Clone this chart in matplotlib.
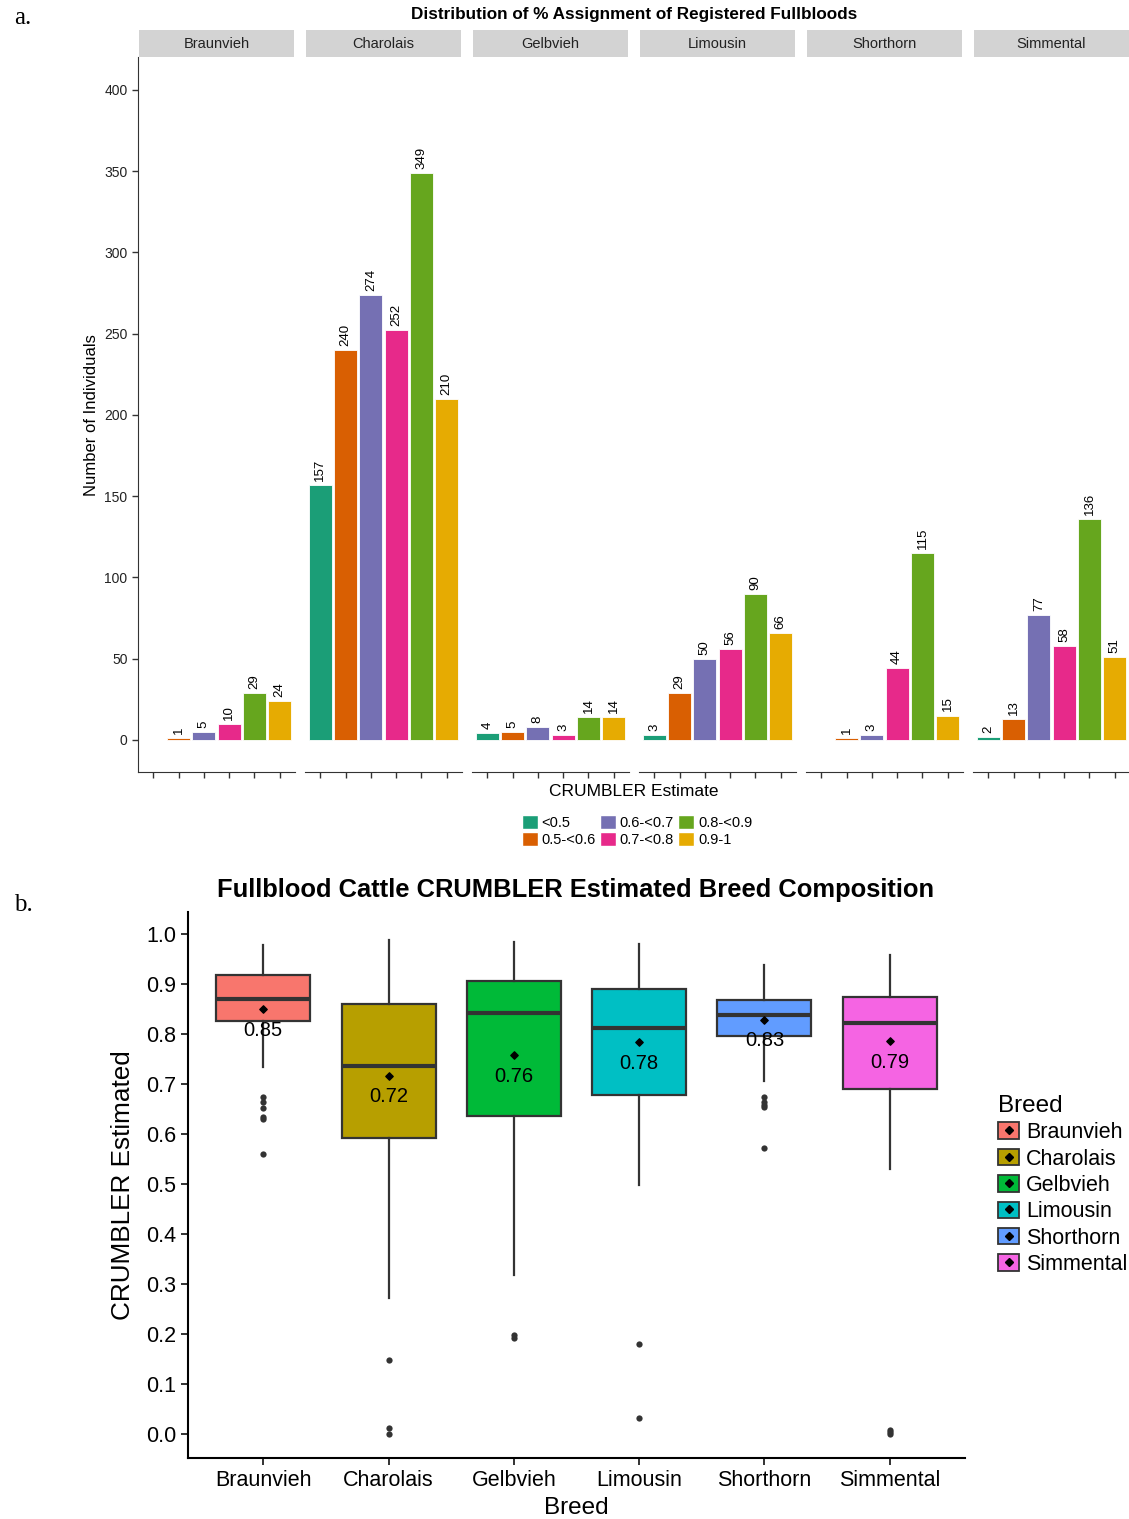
import numpy as np
import matplotlib
matplotlib.use("Agg")
import matplotlib.pyplot as plt
from matplotlib.patches import Patch, Rectangle
from matplotlib.lines import Line2D

plt.rcParams['font.family'] = ['Liberation Sans', 'DejaVu Sans']

# ---- data, panel a ----
breeds = ['Braunvieh', 'Charolais', 'Gelbvieh', 'Limousin', 'Shorthorn', 'Simmental']
bins = ['<0.5', '0.5-<0.6', '0.6-<0.7', '0.7-<0.8', '0.8-<0.9', '0.9-1']
bin_colors = ['#1B9E77', '#D95F02', '#7570B3', '#E7298A', '#66A61E', '#E6AB02']

braunvieh_counts = [0, 1, 5, 10, 29, 24]
charolais_counts = [157, 240, 274, 252, 349, 210]
gelbvieh_counts = [4, 5, 8, 3, 14, 14]
limousin_counts = [3, 29, 50, 56, 90, 66]
shorthorn_counts = [0, 1, 3, 44, 115, 15]
simmental_counts = [2, 13, 77, 58, 136, 51]
all_counts = [braunvieh_counts, charolais_counts, gelbvieh_counts,
              limousin_counts, shorthorn_counts, simmental_counts]

# ---- data, panel b (box statistics) ----
breed_colors = ['#F8766D', '#B79F00', '#00BA38', '#00BFC4', '#619CFF', '#F564E3']
q1 = [0.826, 0.593, 0.636, 0.678, 0.797, 0.691]
medians = [0.870, 0.736, 0.843, 0.813, 0.838, 0.823]
q3 = [0.918, 0.860, 0.907, 0.891, 0.869, 0.875]
whisk_lo = [0.734, 0.272, 0.318, 0.499, 0.706, 0.531]
whisk_hi = [0.978, 0.989, 0.985, 0.981, 0.938, 0.959]
means = [0.850, 0.717, 0.759, 0.784, 0.829, 0.787]
outliers = [
    [0.675, 0.665, 0.652, 0.635, 0.630, 0.560],
    [0.149, 0.013, 0.0],
    [0.198, 0.192],
    [0.181, 0.033],
    [0.675, 0.665, 0.658, 0.655, 0.573],
    [0.008, 0.004, 0.0],
]

W, H = 1129, 1519
fig = plt.figure(figsize=(W / 100, H / 100), dpi=100)


def fx(px):
    return px / W


def fy(py):
    return 1 - py / H


# ================= panel a =================
x = np.arange(1, 7)
for i, breed in enumerate(breeds):
    left = 138 + i * 167
    ax = fig.add_axes([fx(left), fy(772), 157 / W, (772 - 57) / H])
    counts = all_counts[i]
    ax.bar(x, counts, width=0.9, color=bin_colors, edgecolor='white', linewidth=0.6)
    for xi, v in zip(x, counts):
        if v > 0:
            ax.annotate(str(v), (xi, v), xytext=(0, 3), textcoords='offset points',
                        rotation=90, ha='center', va='bottom', fontsize=9.5, color='black')
    ax.set_xlim(0.4, 6.6)
    ax.set_ylim(-19.7, 420.3)
    ax.set_xticks(x)
    ax.set_xticklabels([])
    ax.tick_params(axis='x', length=4, width=1, color='#333333')
    for s in ['top', 'right']:
        ax.spines[s].set_visible(False)
    ax.spines['bottom'].set_color('#333333')
    if i == 0:
        ax.set_yticks([0, 50, 100, 150, 200, 250, 300, 350, 400])
        ax.tick_params(axis='y', length=4, width=1, color='#333333', labelsize=10, labelcolor='#222222')
        ax.spines['left'].set_color('#333333')
    else:
        ax.spines['left'].set_visible(False)
        ax.set_yticks([])
    ax.add_patch(Rectangle((0.005, 1.0), 0.99, 27 / 715, transform=ax.transAxes, clip_on=False,
                           facecolor='#D3D3D3', edgecolor='none'))
    ax.text(0.5, 1.0 + 13.5 / 715, breed, transform=ax.transAxes, ha='center', va='center',
            fontsize=10.5, color='#222222')

fig.text(fx(634), fy(15), 'Distribution of % Assignment of Registered Fullbloods',
         ha='center', va='center', fontsize=12.3, fontweight='bold')
fig.text(fx(92), fy(415), 'Number of Individuals', rotation=90, ha='center', va='center',
         fontsize=12)
fig.text(fx(634), fy(791), 'CRUMBLER Estimate', ha='center', va='center', fontsize=12.5)

bin_handles = [Patch(facecolor=c, edgecolor='white') for c in bin_colors]
fig.legend(bin_handles, bins, ncol=3, loc='center', bbox_to_anchor=(fx(637), fy(831)),
           frameon=False, fontsize=10.5, handlelength=1.1, handleheight=1.1,
           handletextpad=0.25, columnspacing=0.3, labelspacing=0.1, borderpad=0)

fig.text(fx(14), fy(18), 'a.', family='Liberation Serif', fontsize=18, ha='left', va='center')

# ================= panel b =================
ax2 = fig.add_axes([fx(188), fy(1458), 777 / W, 546 / H])
stats = []
for k in range(len(breeds)):
    stats.append(dict(med=medians[k], q1=q1[k], q3=q3[k], whislo=whisk_lo[k],
                      whishi=whisk_hi[k], fliers=outliers[k], mean=means[k]))
pos = np.arange(1, 7)
bp = ax2.bxp(stats, positions=pos, widths=0.75, patch_artist=True, showcaps=False,
             showmeans=False,
             medianprops=dict(color='#333333', linewidth=3),
             boxprops=dict(edgecolor='#333333', linewidth=1.6),
             whiskerprops=dict(color='#333333', linewidth=1.6),
             flierprops=dict(marker='o', markerfacecolor='#333333', markeredgecolor='none',
                             markersize=4.5))
for patch, c in zip(bp['boxes'], breed_colors):
    patch.set_facecolor(c)
ax2.scatter(pos, means, marker='D', color='black', s=14, zorder=5)
for p, m in zip(pos, means):
    ax2.text(p, m - 0.043, f'{m:.2f}', ha='center', va='center', fontsize=14.5, zorder=6)

ax2.set_xlim(0.4, 6.6)
ax2.set_ylim(-0.048, 1.044)
ax2.set_yticks(np.round(np.arange(0, 1.01, 0.1), 1))
ax2.set_yticklabels([f'{v:.1f}' for v in np.arange(0, 1.01, 0.1)])
ax2.set_xticks(pos)
ax2.set_xticklabels(breeds)
ax2.tick_params(axis='both', length=5, width=1.3, labelsize=15.5, color='#222222')
for s in ['top', 'right']:
    ax2.spines[s].set_visible(False)
for s in ['left', 'bottom']:
    ax2.spines[s].set_linewidth(1.5)
ax2.set_xlabel('Breed', fontsize=17.5)
ax2.xaxis.set_label_coords(0.5, -0.072)
ax2.set_ylabel('CRUMBLER Estimated', fontsize=18.8)
ax2.yaxis.set_label_coords(-0.068, 0.5)

fig.text(fx(576), fy(890), 'Fullblood Cattle CRUMBLER Estimated Breed Composition',
         ha='center', va='center', fontsize=18.4, fontweight='bold')

breed_handles = [(Patch(facecolor=c, edgecolor='#333333', linewidth=1.3),
                  Line2D([], [], marker='D', color='black', markersize=4, linestyle='none'))
                 for c in breed_colors]
leg = fig.legend(breed_handles, breeds, loc='upper left', bbox_to_anchor=(fx(987), fy(1084)),
                 frameon=False, fontsize=15.5, title='Breed', title_fontsize=17.5,
                 handlelength=1.0, handleheight=0.8, handletextpad=0.3, labelspacing=0.25,
                 borderpad=0)
leg._legend_box.align = 'left'

fig.text(fx(14), fy(905), 'b.', family='Liberation Serif', fontsize=18, ha='left', va='center')

fig.savefig('out.png', dpi=100)
